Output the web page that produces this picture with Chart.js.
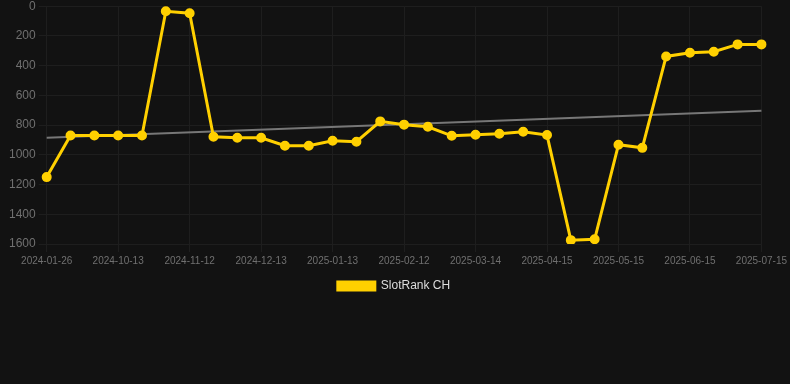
<!DOCTYPE html>
<html>
<head>
<meta charset="utf-8">
<script src="https://cdn.jsdelivr.net/npm/chart.js@4"></script>
<style>
  html, body { margin: 0; padding: 0; background: #121212; overflow: hidden; }
  #wrap { width: 790px; height: 306px; position: relative; margin-top: -4px; }
</style>
</head>
<body>
<div id="wrap"><canvas id="myLineChart"></canvas></div>
<script>
const dates = [
    '2024-01-26', '2024-09-23', '2024-10-03', '2024-10-13', '2024-10-23', '2024-11-02',
    '2024-11-12', '2024-11-22', '2024-12-02', '2024-12-13', '2024-12-23', '2025-01-03',
    '2025-01-13', '2025-01-23', '2025-02-02', '2025-02-12', '2025-02-22', '2025-03-04',
    '2025-03-14', '2025-03-24', '2025-04-04', '2025-04-15', '2025-04-25', '2025-05-05',
    '2025-05-15', '2025-05-25', '2025-06-05', '2025-06-15', '2025-06-25', '2025-07-05',
    '2025-07-15',
];
const rank = [
    1150, 870, 870, 870, 870, 34, 47, 878, 885, 885, 939, 939, 905, 912, 775, 797,
    811, 872, 865, 858, 845, 867, 1574, 1568, 932, 953, 338, 313, 306, 257, 257,
];
// trend line only has its two end values, the rest is gaps
const trendStart = 885;
const trendEnd = 703;

const trend = dates.map((d, i) => (i === 0 ? trendStart : i === dates.length - 1 ? trendEnd : null));

const ctx = document.getElementById('myLineChart').getContext('2d');
new Chart(ctx, {
    type: 'line',
    data: {
        labels: dates,
        datasets: [
            {
                label: 'SlotRank CH',
                data: rank,
                borderColor: '#ffd000',
                backgroundColor: '#ffd000',
                borderWidth: 3,
                pointRadius: 4,
                pointBorderWidth: 2,
                pointHoverRadius: 5,
                tension: 0,
                fill: false,
            },
            {
                label: 'trend',
                data: trend,
                borderColor: '#777777',
                borderWidth: 2,
                pointRadius: 0,
                spanGaps: true,
                fill: false,
            },
        ],
    },
    options: {
        responsive: true,
        maintainAspectRatio: false,
        animation: false,
        layout: { padding: { left: 6, right: 8, top: 0, bottom: 0 } },
        plugins: {
            legend: {
                position: 'bottom',
                labels: {
                    color: '#dddddd',
                    font: { family: 'Liberation Sans, Arial', size: 12 },
                    boxWidth: 37,
                    boxHeight: 8,
                    padding: 10,
                    filter: (item) => item.text !== 'trend',
                },
            },
            tooltip: { enabled: false },
        },
        scales: {
            x: {
                type: 'category',
                grid: { color: '#1e1e1e' },
                border: { display: false },
                ticks: {
                    color: '#707070',
                    font: { family: 'Liberation Sans, Arial', size: 10 },
                    maxRotation: 0,
                    autoSkip: true,
                    maxTicksLimit: 11,
                },
            },
            y: {
                reverse: true,
                beginAtZero: true,
                max: 1600,
                grid: { color: '#1e1e1e' },
                border: { display: false },
                ticks: {
                    color: '#707070',
                    stepSize: 200,
                    font: { family: 'Liberation Sans, Arial', size: 12 },
                    callback: (v) => String(v),
                },
            },
        },
    },
});
</script>
</body>
</html>
